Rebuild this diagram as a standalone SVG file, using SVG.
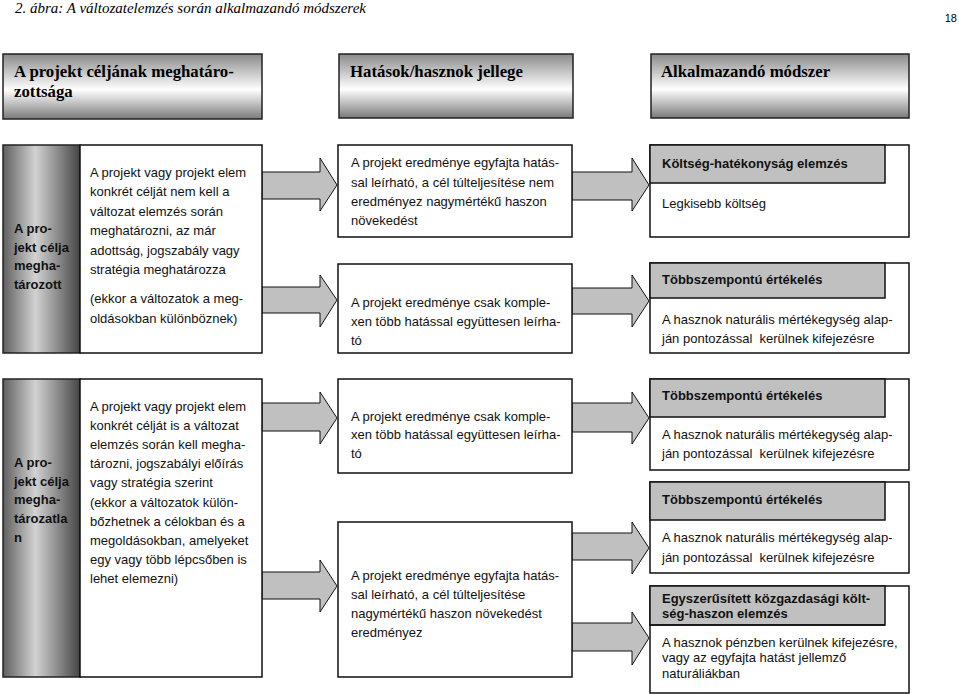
<svg xmlns="http://www.w3.org/2000/svg" width="959" height="694" viewBox="0 0 959 694">
<defs>
<linearGradient id="hdr" x1="0" y1="0" x2="0" y2="1">
<stop offset="0" stop-color="#8a8a8a"/>
<stop offset="0.55" stop-color="#ffffff"/>
<stop offset="1" stop-color="#7a7a7a"/>
</linearGradient>
<linearGradient id="bar" x1="0" y1="0" x2="1" y2="0">
<stop offset="0" stop-color="#5f5f5f"/>
<stop offset="0.42" stop-color="#d2d2d2"/>
<stop offset="1" stop-color="#454545"/>
</linearGradient>
</defs>
<style>
.cap{font-family:"Liberation Serif",serif;font-style:italic;font-size:15px;fill:#000}
.pg{font-family:"Liberation Sans",sans-serif;font-size:11px;fill:#000}
.ht{font-family:"Liberation Serif",serif;font-weight:bold;font-size:16.8px;fill:#000}
.hb{fill:url(#hdr);stroke:#222;stroke-width:1.5}
.bar{fill:url(#bar);stroke:#222;stroke-width:1.5}
.box{fill:#fff;stroke:#111;stroke-width:1.5}
.gh{fill:#c0c0c0;stroke:#111;stroke-width:1.5}
.t{font-family:"Liberation Sans",sans-serif;font-size:13px;fill:#111}
.b{font-family:"Liberation Sans",sans-serif;font-size:13px;font-weight:bold;fill:#111}
.arr{fill:#c0c0c0;stroke:#111;stroke-width:1}
</style>
<rect width="959" height="694" fill="#fff"/>
<text class="cap" x="15" y="13">2. ábra: A változatelemzés során alkalmazandó módszerek</text>
<text class="pg" x="957" y="22" text-anchor="end">18</text>

<g id="h1"><rect class="hb" x="3" y="54" width="259" height="65"/><text class="ht" x="14" y="77">A projekt céljának meghatáro-</text><text class="ht" x="14" y="97">zottsága</text></g>
<g id="h2"><rect class="hb" x="339" y="54" width="234" height="64"/><text class="ht" x="350" y="77">Hatások/hasznok jellege</text></g>
<g id="h3"><rect class="hb" x="651" y="54" width="258" height="64"/><text class="ht" x="661" y="77">Alkalmazandó módszer</text></g>

<g id="connectors">
<polygon class="arr" points="262,172 320,172 320,158 337,185 320,211 320,199 262,199"/>
<polygon class="arr" points="262,287 320,287 320,275 337,300 320,327 320,313 262,313"/>
<polygon class="arr" points="572,172 632,172 632,158 649,185 632,211 632,200 572,200"/>
<polygon class="arr" points="572,288 632,288 632,275 649,301 632,327 632,314 572,314"/>
<polygon class="arr" points="262,403 320,403 320,392 337,418 320,444 320,431 262,431"/>
<polygon class="arr" points="262,572 320,572 320,560 337,586 320,612 320,599 262,599"/>
<polygon class="arr" points="572,403 632,403 632,392 649,418 632,444 632,432 572,432"/>
<polygon class="arr" points="572,533 632,533 632,522 649,548 632,574 632,560 572,560"/>
<polygon class="arr" points="572,623 632,623 632,612 649,638 632,665 632,651 572,651"/>
</g>

<g id="r1left">
<rect class="bar" x="3" y="145" width="77" height="208"/>
<text class="b" x="14" y="233">A pro-</text><text class="b" x="14" y="252">jekt célja</text><text class="b" x="14" y="270">megha-</text><text class="b" x="14" y="289">tározott</text>
</g>
<g id="r1desc">
<rect class="box" x="80" y="145" width="182" height="208"/>
<text class="t" x="90" y="177">A projekt vagy projekt elem</text>
<text class="t" x="90" y="196">konkrét célját nem kell a</text>
<text class="t" x="90" y="216">változat elemzés során</text>
<text class="t" x="90" y="235">meghatározni, az már</text>
<text class="t" x="90" y="255">adottság, jogszabály vagy</text>
<text class="t" x="90" y="274">stratégia meghatározza</text>
<text class="t" x="90" y="303">(ekkor a változatok a meg-</text>
<text class="t" x="90" y="323">oldásokban különböznek)</text>
</g>
<g id="r1m1">
<rect class="box" x="338" y="145" width="234" height="92"/>
<text class="t" x="351" y="167">A projekt eredménye egyfajta hatás-</text>
<text class="t" x="351" y="187">sal leírható, a cél túlteljesítése nem</text>
<text class="t" x="351" y="206">eredményez nagymértékű haszon</text>
<text class="t" x="351" y="225">növekedést</text>
</g>
<g id="r1m2">
<rect class="box" x="338" y="264" width="234" height="89"/>
<text class="t" x="351" y="307">A projekt eredménye csak komple-</text>
<text class="t" x="351" y="326">xen több hatással együttesen leírha-</text>
<text class="t" x="351" y="345">tó</text>
</g>
<g id="r1r1">
<rect class="box" x="650" y="145" width="259" height="92"/>
<rect class="gh" x="650" y="145" width="235" height="38"/>
<text class="b" x="662" y="168">Költség-hatékonyság elemzés</text>
<text class="t" x="662" y="208">Legkisebb költség</text>
</g>
<g id="r1r2">
<rect class="box" x="650" y="263" width="259" height="90"/>
<rect class="gh" x="650" y="263" width="235" height="35"/>
<text class="b" x="662" y="284">Többszempontú értékelés</text>
<text class="t" x="662" y="324">A hasznok naturális mértékegység alap-</text>
<text class="t" x="662" y="343" xml:space="preserve">ján pontozással  kerülnek kifejezésre</text>
</g>

<g id="r2left">
<rect class="bar" x="3" y="379" width="77" height="298"/>
<text class="b" x="14" y="467">A pro-</text><text class="b" x="14" y="486">jekt célja</text><text class="b" x="14" y="504">megha-</text><text class="b" x="14" y="523">tározatla</text><text class="b" x="14" y="542">n</text>
</g>
<g id="r2desc">
<rect class="box" x="80" y="379" width="182" height="298"/>
<text class="t" x="90" y="411">A projekt vagy projekt elem</text>
<text class="t" x="90" y="430">konkrét célját is a változat</text>
<text class="t" x="90" y="449">elemzés során kell megha-</text>
<text class="t" x="90" y="468">tározni, jogszabályi előírás</text>
<text class="t" x="90" y="487">vagy stratégia szerint</text>
<text class="t" x="90" y="507">(ekkor a változatok külön-</text>
<text class="t" x="90" y="526">bőzhetnek a célokban és a</text>
<text class="t" x="90" y="545">megoldásokban, amelyeket</text>
<text class="t" x="90" y="564">egy vagy több lépcsőben is</text>
<text class="t" x="90" y="583">lehet elemezni)</text>
</g>
<g id="r2m1">
<rect class="box" x="338" y="379" width="234" height="94"/>
<text class="t" x="351" y="421">A projekt eredménye csak komple-</text>
<text class="t" x="351" y="439">xen több hatással együttesen leírha-</text>
<text class="t" x="351" y="458">tó</text>
</g>
<g id="r2m2">
<rect class="box" x="338" y="522" width="234" height="155"/>
<text class="t" x="351" y="580">A projekt eredménye egyfajta hatás-</text>
<text class="t" x="351" y="599">sal leírható, a cél túlteljesítése</text>
<text class="t" x="351" y="618">nagymértékű haszon növekedést</text>
<text class="t" x="351" y="637">eredményez</text>
</g>
<g id="r2r1">
<rect class="box" x="650" y="379" width="259" height="91"/>
<rect class="gh" x="650" y="379" width="235" height="38"/>
<text class="b" x="662" y="400">Többszempontú értékelés</text>
<text class="t" x="662" y="439">A hasznok naturális mértékegység alap-</text>
<text class="t" x="662" y="458" xml:space="preserve">ján pontozással  kerülnek kifejezésre</text>
</g>
<g id="r2r2">
<rect class="box" x="650" y="482" width="259" height="91"/>
<rect class="gh" x="650" y="482" width="235" height="38"/>
<text class="b" x="662" y="504">Többszempontú értékelés</text>
<text class="t" x="662" y="542">A hasznok naturális mértékegység alap-</text>
<text class="t" x="662" y="562" xml:space="preserve">ján pontozással  kerülnek kifejezésre</text>
</g>
<g id="r2r3">
<rect class="box" x="650" y="586" width="259" height="107"/>
<rect class="gh" x="650" y="586" width="235" height="39"/>
<text class="b" x="662" y="603">Egyszerűsített közgazdasági költ-</text>
<text class="b" x="662" y="618">ség-haszon elemzés</text>
<line x1="650" y1="625" x2="885" y2="625" stroke="#111" stroke-width="1.5"/>
<text class="t" x="662" y="647">A hasznok pénzben kerülnek kifejezésre,</text>
<text class="t" x="662" y="662">vagy az egyfajta hatást jellemző</text>
<text class="t" x="662" y="678">naturáliákban</text>
</g>
</svg>
